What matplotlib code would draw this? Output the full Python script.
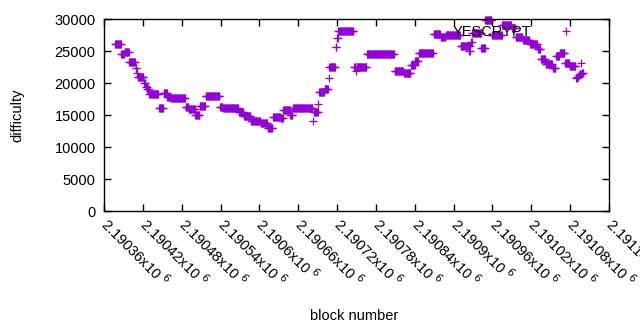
import numpy as np
import matplotlib
matplotlib.use('Agg')
import matplotlib.pyplot as plt

# difficulty runs: first block, last block, difficulty
run_first = [2190377, 2190387, 2190392, 2190399, 2190409, 2190411, 2190412, 2190422,
             2190425, 2190427, 2190430, 2190445, 2190452, 2190458, 2190463, 2190486,
             2190491, 2190501, 2190508, 2190517, 2190539, 2190544, 2190568, 2190576,
             2190587, 2190602, 2190613, 2190621, 2190633, 2190637, 2190648, 2190652,
             2190683, 2190684, 2190691, 2190692, 2190701, 2190707, 2190708, 2190718,
             2190720, 2190722, 2190746, 2190749, 2190750, 2190766, 2190809, 2190823,
             2190834, 2190841, 2190846, 2190869, 2190880, 2190888, 2190911, 2190923,
             2190924, 2190926, 2190927, 2190929, 2190943, 2190949, 2190959, 2190975,
             2190990, 2190996, 2191007, 2191018, 2191030, 2191035, 2191042, 2191053,
             2191058, 2191064, 2191072, 2191079, 2191089, 2191091, 2191093, 2191095,
             2191097, 2191098]
run_last = [2190386, 2190391, 2190398, 2190408, 2190410, 2190411, 2190421, 2190424,
            2190426, 2190429, 2190444, 2190451, 2190457, 2190462, 2190485, 2190490,
            2190500, 2190507, 2190516, 2190538, 2190543, 2190567, 2190575, 2190586,
            2190601, 2190612, 2190620, 2190632, 2190636, 2190647, 2190651, 2190682,
            2190683, 2190690, 2190691, 2190700, 2190706, 2190707, 2190717, 2190719,
            2190721, 2190745, 2190748, 2190749, 2190765, 2190808, 2190822, 2190833,
            2190840, 2190845, 2190868, 2190879, 2190887, 2190910, 2190922, 2190923,
            2190925, 2190926, 2190928, 2190942, 2190948, 2190958, 2190974, 2190989,
            2190995, 2191006, 2191017, 2191029, 2191034, 2191041, 2191052, 2191057,
            2191063, 2191071, 2191078, 2191088, 2191090, 2191092, 2191094, 2191096,
            2191097, 2191100]
run_diff = [26100, 24600, 24850, 23250, 22350, 21550, 21000, 20000,
            19400, 19050, 18250, 16050, 18400, 17850, 17600, 16300,
            15950, 15000, 16450, 17900, 16300, 16100, 15450, 14850,
            14100, 13800, 13000, 14650, 14550, 15850, 15000, 16100,
            14050, 15450, 16700, 18550, 19050, 20750, 22450, 25700,
            27000, 28150, 22450, 21800, 22450, 24500, 21900, 21600,
            22800, 23450, 24650, 27600, 27200, 27500, 25850, 25050,
            25850, 25050, 26400, 27800, 25450, 29850, 27500, 29000,
            28600, 27200, 26750, 26100, 25350, 23800, 23000, 22300,
            24200, 24700, 23100, 22650, 20800, 21000, 21200, 21400,
            23100, 21600]

x_ticks = [2190360 + 60 * i for i in range(14)]
x_tick_labels = ['2.19036', '2.19042', '2.19048', '2.19054', '2.1906', '2.19066',
                 '2.19072', '2.19078', '2.19084', '2.1909', '2.19096', '2.19102',
                 '2.19108', '2.19114']
y_ticks = [0, 5000, 10000, 15000, 20000, 25000, 30000]

blocks = np.concatenate([np.arange(a, b + 1) for a, b in zip(run_first, run_last)])
diffs = np.concatenate([np.full(b - a + 1, d) for a, b, d in zip(run_first, run_last, run_diff)])

plt.rcParams['font.family'] = ['Liberation Sans', 'DejaVu Sans']
plt.rcParams['font.size'] = 10.5

fig = plt.figure(figsize=(6.4, 3.3), dpi=100)
ax = fig.add_axes([0.1625, 0.3606, 0.7891, 0.5818])
ax.plot(blocks, diffs, ls='none', marker='+', ms=5.2, mew=0.9, c='#9400D3',
        label='YESCRYPT', clip_on=False)

ax.set_xlim(2190360, 2191140)
ax.set_ylim(0, 30000)
ax.set_yticks(y_ticks)
ax.set_xticks(x_ticks)
ax.set_xticklabels([m + r'x10 $^{6}$' for m in x_tick_labels], rotation=-45,
                   ha='left', va='center', rotation_mode='anchor')
ax.tick_params(direction='in', top=True, right=True, length=5, width=1, pad=6)
ax.tick_params(axis='x', pad=7)
for s in ax.spines.values():
    s.set_linewidth(1)

ax.set_xlabel('block number')
ax.set_ylabel('difficulty')
ax.xaxis.set_label_coords(0.495, -0.51)
ax.yaxis.set_label_coords(-0.158, 0.5)

ax.legend(loc='upper right', bbox_to_anchor=(0.956, 1.0), borderaxespad=0,
          frameon=False, markerfirst=False, handletextpad=1.4, handlelength=2)

fig.savefig('out.png', dpi=100)
